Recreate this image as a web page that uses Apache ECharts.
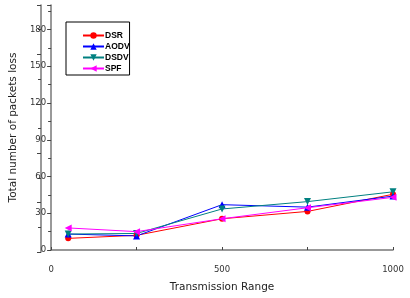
<!DOCTYPE html>
<html>
<head>
<meta charset="utf-8">
<script src="https://cdn.jsdelivr.net/npm/echarts@6/dist/echarts.min.js"></script>
<style>
  html, body { margin: 0; padding: 0; background: #fff; }
  #chart { width: 410px; height: 298px; }
</style>
</head>
<body>
<div id="chart"></div>
<script>
// transmission range (x) and packets lost per protocol
var ranges = [50, 250, 500, 750, 1000];
var dsr  = [9.5, 12, 25.5, 31.5, 45.5];
var aodv = [13, 11.5, 37, 35, 44];
var dsdv = [13, 13.5, 33.5, 39.5, 47.5];
var spf  = [18, 15, 25.5, 34.5, 43];

function pairs(vals) {
  return ranges.map(function (x, i) { return [x, vals[i]]; });
}

var axisColor = "#777";
var labelFont = { fontFamily: "DejaVu Sans", fontSize: 8.5, color: "#333" };

var myChart = echarts.init(document.getElementById("chart"));
myChart.setOption({
  animation: false,
  grid: [
    { left: 41, right: 17, top: 5, bottom: 46 },
    { left: 41, right: 5, top: 5, bottom: 46 }
  ],
  legend: {
    left: 66,
    top: 22,
    orient: "vertical",
    borderColor: "#000",
    borderWidth: 1,
    padding: [8, 0, 1, 16],
    itemWidth: 21,
    itemHeight: 8,
    itemGap: 0,
    textStyle: {
      fontFamily: "Liberation Sans",
      fontWeight: "bold",
      fontSize: 8.5,
      lineHeight: 11,
      color: "#000",
      padding: [0, 0, 0, -4]
    },
    data: ["DSR", "AODV", "DSDV", "SPF"]
  },
  xAxis: [
    {
      gridIndex: 0,
      type: "value",
      min: 0,
      max: 1000,
      interval: 500,
      offset: 8,
      name: "Transmission Range",
      nameLocation: "middle",
      nameGap: 24,
      nameTextStyle: { fontFamily: "DejaVu Sans", fontSize: 10.5, color: "#222" },
      splitLine: { show: false },
      axisLine: { lineStyle: { color: axisColor, width: 1.5 } },
      axisTick: { inside: true, length: 3, lineStyle: { color: "#444" } },
      minorTick: { show: true, splitNumber: 2, length: 3, lineStyle: { color: "#444" } },
      axisLabel: Object.assign({
        margin: 7,
        formatter: function (v) { return String(v); }
      }, labelFont)
    },
    {
      gridIndex: 1,
      type: "value",
      min: 0,
      max: 1000,
      show: false
    }
  ],
  yAxis: [
    {
      gridIndex: 0,
      type: "value",
      min: 0,
      max: 200,
      interval: 30,
      name: "Total number of packets loss",
      nameLocation: "middle",
      nameGap: 24,
      nameTextStyle: { fontFamily: "DejaVu Sans", fontSize: 10.5, color: "#222" },
      splitLine: { show: false },
      axisLine: { show: true, lineStyle: { color: axisColor, width: 1.5 } },
      axisTick: { length: 4, lineStyle: { color: "#444" } },
      minorTick: { show: true, splitNumber: 2, length: 3, lineStyle: { color: "#444" } },
      axisLabel: Object.assign({
        margin: 5,
        formatter: function (v) { return v > 180 ? "" : String(v); }
      }, labelFont)
    },
    {
      gridIndex: 1,
      type: "value",
      position: "right",
      min: 0,
      max: 200,
      interval: 40,
      splitLine: { show: false },
      axisLine: { show: true, lineStyle: { color: axisColor, width: 1.5 } },
      axisTick: { inside: true, length: 4, lineStyle: { color: "#444" } },
      minorTick: { show: true, splitNumber: 2, length: 3, lineStyle: { color: "#444" } },
      axisLabel: { show: false }
    }
  ],
  series: [
    {
      name: "DSR", type: "line", xAxisIndex: 0, yAxisIndex: 0,
      data: pairs(dsr), symbol: "circle", symbolSize: 6,
      itemStyle: { color: "#ff0000" }, lineStyle: { width: 1, color: "#ff0000" }
    },
    {
      name: "AODV", type: "line", xAxisIndex: 0, yAxisIndex: 0,
      data: pairs(aodv), symbol: "triangle", symbolSize: 7,
      itemStyle: { color: "#0000ff" }, lineStyle: { width: 1, color: "#0000ff" }
    },
    {
      name: "DSDV", type: "line", xAxisIndex: 0, yAxisIndex: 0,
      data: pairs(dsdv), symbol: "triangle", symbolRotate: 180, symbolSize: 7,
      itemStyle: { color: "#008080" }, lineStyle: { width: 1, color: "#008080" }
    },
    {
      name: "SPF", type: "line", xAxisIndex: 0, yAxisIndex: 0,
      data: pairs(spf), symbol: "triangle", symbolRotate: 90, symbolSize: 7,
      itemStyle: { color: "#ff00ff" }, lineStyle: { width: 1, color: "#ff00ff" }
    }
  ]
});
</script>
</body>
</html>
